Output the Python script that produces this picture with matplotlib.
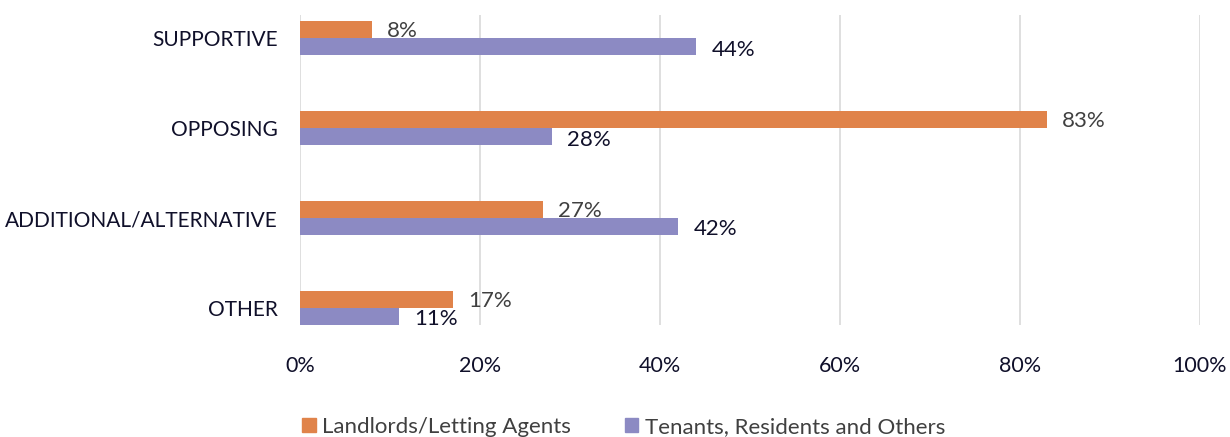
import numpy as np
import matplotlib
matplotlib.use("Agg")
from matplotlib import pyplot as plt
from matplotlib.patches import Patch

plt.rcParams['font.family'] = ['Lato', 'DejaVu Sans']

categories = ["SUPPORTIVE", "OPPOSING", "ADDITIONAL/ALTERNATIVE", "OTHER"]
landlords = [8, 83, 27, 17]
tenants = [44, 28, 42, 11]
series_names = ["Landlords/Letting Agents", "Tenants, Residents and Others"]
ticks = [0, 20, 40, 60, 80, 100]

orange = "#E0834A"
purple = "#8C8AC3"

fig = plt.figure(figsize=(12.3, 4.37), dpi=100)
ax = fig.add_axes([300 / 1230, 1 - 325 / 437, 900 / 1230, 310 / 437])

y = np.arange(len(categories))[::-1]
h = 0.19
ax.barh(y + h / 2, landlords, height=h, color=orange, zorder=3)
ax.barh(y - h / 2, tenants, height=h, color=purple, zorder=3)

for yi, v in zip(y, landlords):
    ax.annotate(f"{v}%", (v, yi + h / 2), xytext=(11, -1), textcoords="offset points",
                va="center", ha="left", fontsize=16, color="#404040", zorder=4)
for yi, v in zip(y, tenants):
    ax.annotate(f"{v}%", (v, yi - h / 2), xytext=(11, -2), textcoords="offset points",
                va="center", ha="left", fontsize=16, color="#10102a", zorder=4)

ax.set_xlim(0, 100)
ax.set_ylim(-0.19, 3.26)
ax.set_xticks(ticks)
ax.set_xticklabels([f"{t}%" for t in ticks])
ax.set_yticks(y)
ax.set_yticklabels(categories)
ax.tick_params(axis="both", length=0, labelsize=15, colors="#10102a")
ax.tick_params(axis="x", pad=22, labelsize=15.5)
ax.tick_params(axis="y", pad=16)
ax.grid(axis="x", color="#d9d9d9", linewidth=1.2, zorder=0)
for s in ax.spines.values():
    s.set_visible(False)

handles = [Patch(color=orange), Patch(color=purple)]
fig.legend(handles, series_names, loc="center", bbox_to_anchor=(0.507, 1 - 427 / 437),
           ncol=2, frameon=False, fontsize=16, handlelength=0.6, handleheight=0.6,
           handletextpad=0.3, columnspacing=2.4, labelcolor="#404040")

fig.savefig("out.png", dpi=100)
